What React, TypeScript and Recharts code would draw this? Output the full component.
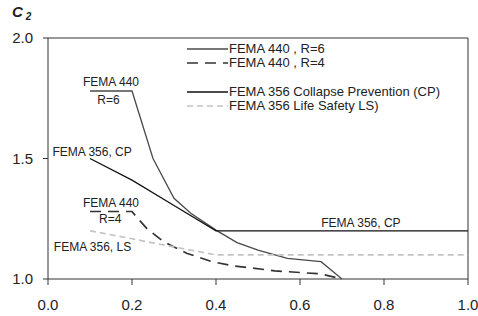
import { LineChart, Line, XAxis, YAxis, ReferenceLine, ReferenceDot } from "recharts";

const xTicks = [0, 0.2, 0.4, 0.6, 0.8, 1.0];
const yTicks = [1.0, 1.5, 2.0];

// FEMA 440, R=6
const r6Period = [0.1, 0.2, 0.25, 0.3, 0.34, 0.4, 0.45, 0.5, 0.57, 0.65, 0.7];
const r6C2 = [1.78, 1.78, 1.5, 1.335, 1.273, 1.203, 1.151, 1.12, 1.086, 1.072, 1.0];

// FEMA 440, R=4
const r4Period = [0.1, 0.2, 0.21, 0.235, 0.275, 0.33, 0.39, 0.44, 0.54, 0.65, 0.7];
const r4C2 = [1.28, 1.28, 1.259, 1.21, 1.155, 1.107, 1.072, 1.055, 1.034, 1.021, 1.0];

// FEMA 356 Collapse Prevention
const cpPeriod = [0.1, 0.2, 0.3, 0.4, 1.0];
const cpC2 = [1.5, 1.41, 1.305, 1.2, 1.2];

// FEMA 356 Life Safety
const lsPeriod = [0.1, 0.2, 0.3, 0.4, 1.0];
const lsC2 = [1.2, 1.167, 1.133, 1.1, 1.1];

const toPoints = (xs: number[], ys: number[]) => xs.map((t, i) => ({ t, c2: ys[i] }));

const series = [
  { name: "FEMA 440 , R=6", data: toPoints(r6Period, r6C2), stroke: "#4a4a4a", width: 1.3, dash: undefined as string | undefined },
  { name: "FEMA 440 , R=4", data: toPoints(r4Period, r4C2), stroke: "#333333", width: 1.7, dash: "11 7" },
  { name: "FEMA 356 Collapse Prevention (CP)", data: toPoints(cpPeriod, cpC2), stroke: "#111111", width: 1.3, dash: undefined },
  { name: "FEMA 356 Life Safety LS)", data: toPoints(lsPeriod, lsC2), stroke: "#c4c4c4", width: 1.7, dash: "6 4" },
];

// in-plot annotations [text, period, C2]
const notes: [string, number, number][] = [
  ["FEMA 440", 0.15, 1.817],
  ["R=6", 0.144, 1.745],
  ["FEMA 356, CP", 0.105, 1.527],
  ["FEMA 440", 0.15, 1.315],
  ["R=4", 0.148, 1.25],
  ["FEMA 356, LS", 0.106, 1.133],
  ["FEMA 356, CP", 0.745, 1.234],
];

const legendGapAfter = [0, 15, 0, 0];

export default function App() {
  return (
    <div style={{ position: "relative", width: 478, height: 316, fontFamily: "'Liberation Sans', Arial, sans-serif" }}>
      <style>{"body{margin:0}"}</style>
      <div style={{ position: "absolute", left: 12, top: 3, fontSize: 15, fontStyle: "italic", fontWeight: "bold", color: "#222" }}>
        C<span style={{ fontSize: 10, marginLeft: 3, position: "relative", top: 3 }}>2</span>
      </div>
      <LineChart
        width={478}
        height={316}
        margin={{ top: 38, right: 10, bottom: 0, left: 0 }}
        style={{ fontFamily: "'Liberation Sans', Arial, sans-serif" }}
      >
        <XAxis
          type="number"
          dataKey="t"
          domain={[0, 1]}
          ticks={xTicks}
          tickFormatter={(v: number) => v.toFixed(1)}
          height={37}
          tickSize={6}
          tickMargin={14}
          stroke="#333"
          tick={{ fill: "#222", fontSize: 15 }}
          allowDuplicatedCategory={false}
        />
        <YAxis
          type="number"
          dataKey="c2"
          domain={[1, 2]}
          ticks={yTicks}
          tickFormatter={(v: number) => v.toFixed(1)}
          width={48}
          tickSize={5}
          tickMargin={10}
          stroke="#333"
          tick={{ fill: "#222", fontSize: 15 }}
        />
        <ReferenceLine y={2} stroke="#333" />
        <ReferenceLine x={1} stroke="#333" />
        {series.map((s) => (
          <Line
            key={s.name}
            data={s.data}
            dataKey="c2"
            name={s.name}
            type="linear"
            stroke={s.stroke}
            strokeWidth={s.width}
            strokeDasharray={s.dash}
            dot={false}
            isAnimationActive={false}
          />
        ))}
        {notes.map(([text, t, c], i) => (
          <ReferenceDot
            key={i}
            x={t}
            y={c}
            r={0}
            fill="none"
            stroke="none"
            label={{ value: text, position: "center", fill: "#222", fontSize: 12 }}
          />
        ))}
      </LineChart>
      <div style={{ position: "absolute", left: 187, top: 42, fontSize: 13, color: "#222", lineHeight: "14px" }}>
        {series.map((s, i) => (
          <div key={s.name} style={{ display: "flex", alignItems: "center", height: 14, marginBottom: legendGapAfter[i] }}>
            <svg width={41} height={8} style={{ marginRight: 1 }}>
              <line x1={0} y1={4} x2={41} y2={4} stroke={s.stroke} strokeWidth={s.width} strokeDasharray={s.dash} />
            </svg>
            <span>{s.name}</span>
          </div>
        ))}
      </div>
    </div>
  );
}
